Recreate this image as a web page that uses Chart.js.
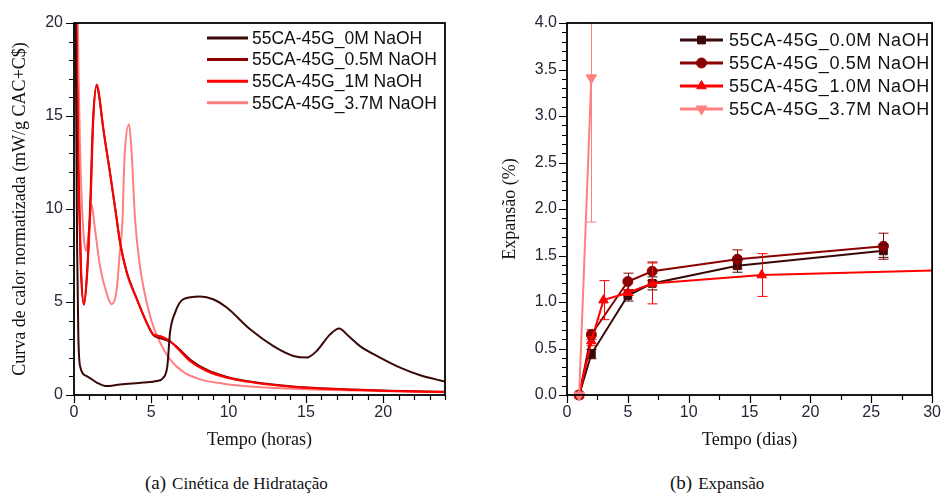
<!DOCTYPE html>
<html>
<head>
<meta charset="utf-8">
<script src="https://cdn.jsdelivr.net/npm/chart.js@4.4.0/dist/chart.umd.min.js"></script>
<style>
  body { margin: 0; background: #fff; width: 949px; height: 493px; position: relative; overflow: hidden; }
  canvas { position: absolute; top: 0; }
  #heat { left: 0; }
  #expansion { left: 475px; }
  .caption { position: absolute; top: 472px; font-family: "Liberation Serif", serif; font-size: 17px; color: #111; white-space: nowrap; }
  .caption span { font-size: 19px; margin-right: 6px; }
</style>
</head>
<body>
<canvas id="heat" width="475" height="460"></canvas>
<canvas id="expansion" width="474" height="460"></canvas>
<div class="caption" style="left:145px"><span>(a)</span>Cinética de Hidratação</div>
<div class="caption" style="left:670px"><span>(b)</span>Expansão</div>
<script>
// --- hydration heat flow (time in hours, mW/g) ---
const heatLabels = ['55CA-45G_0M NaOH', '55CA-45G_0.5M NaOH', '55CA-45G_1M NaOH', '55CA-45G_3.7M NaOH'];
const heat0_t = [0.05, 0.12, 0.2, 0.28, 0.39, 0.82, 1.47, 2.11, 2.98, 4.49, 5.35, 5.78, 6.04, 6.21, 6.54, 7.08, 8.16, 9.0, 9.88, 11.39, 12.9, 14.2, 15.06, 15.7, 16.57, 17.15, 17.76, 18.5, 19.8, 21.1, 22.4, 24];
const heat0_q = [30, 18, 8, 3.2, 1.56, 1.02, 0.67, 0.48, 0.57, 0.67, 0.75, 0.93, 1.56, 3.35, 4.43, 5.15, 5.29, 5.15, 4.7, 3.53, 2.63, 2.1, 2.01, 2.37, 3.26, 3.57, 3.17, 2.63, 2.01, 1.47, 1.06, 0.72];
const heat05_t = [0.05, 0.14, 0.28, 0.43, 0.63, 0.83, 1.05, 1.22, 1.45, 1.58, 1.88, 2.3, 2.74, 2.96, 3.4, 4.05, 4.7, 5.13, 5.6, 6.25, 6.7, 7.55, 8.65, 9.9, 11.6, 14, 17.2, 20.5, 24];
const heat05_q = [30, 20, 12, 7, 4.85, 6.4, 10.3, 14.6, 16.6, 16.3, 14.4, 12.1, 9.6, 8.3, 6.65, 5.2, 3.9, 3.22, 3.05, 2.85, 2.55, 1.88, 1.33, 0.97, 0.7, 0.47, 0.32, 0.23, 0.17];
const heat1_t = [0.05, 0.15, 0.3, 0.45, 0.65, 0.85, 1.08, 1.25, 1.47, 1.6, 1.9, 2.33, 2.76, 2.98, 3.41, 4.06, 4.7, 5.13, 5.57, 6.21, 6.65, 7.5, 8.59, 9.88, 11.6, 14, 17.2, 20.5, 24];
const heat1_q = [30, 20, 12, 7, 4.88, 6.5, 10.5, 14.8, 16.7, 16.3, 14.3, 11.96, 9.45, 8.2, 6.58, 5.15, 3.89, 3.26, 3.17, 2.9, 2.55, 1.83, 1.29, 0.93, 0.67, 0.45, 0.31, 0.22, 0.16];
const heat37_t = [0.15, 0.25, 0.4, 0.5, 0.65, 0.78, 0.95, 1.14, 1.3, 1.68, 2.1, 2.44, 2.75, 2.98, 3.15, 3.2, 3.3, 3.56, 3.73, 3.95, 4.27, 4.92, 5.57, 6.21, 7.07, 8.16, 9.66, 11.8, 15.06, 19.4, 24];
const heat37_q = [30, 20, 13, 10.5, 8.3, 7.74, 8.8, 10.25, 9.3, 6.94, 5.5, 4.88, 5.6, 7.83, 9.62, 11.2, 13.2, 14.55, 13.0, 9.45, 6.9, 4.25, 2.82, 1.92, 1.24, 0.84, 0.61, 0.43, 0.31, 0.22, 0.15];

// --- expansion (time in days, %) with error bars ---
const expLabels = ['55CA-45G_0.0M NaOH', '55CA-45G_0.5M NaOH', '55CA-45G_1.0M NaOH', '55CA-45G_3.7M NaOH'];
const exp00_days = [1, 2, 5, 7, 14, 26];
const exp00_pct = [0, 0.44, 1.07, 1.20, 1.39, 1.55];
const exp00_err = [0, 0.05, 0.06, 0.07, 0.07, 0.07];
const exp05_days = [1, 2, 5, 7, 14, 26];
const exp05_pct = [0, 0.65, 1.22, 1.33, 1.46, 1.60];
const exp05_err = [0, 0.05, 0.09, 0.10, 0.10, 0.14];
const exp10_days = [1, 2, 3, 5, 7, 16, 30];
const exp10_pct = [0, 0.58, 1.02, 1.10, 1.20, 1.29, 1.34];
const exp10_err = [0, 0.05, 0.21, 0.03, 0.22, 0.23, 0];
const exp37_days = [1, 2];
const exp37_pct = [0, 3.41];
const exp37_err = [0, 1.55];

const colors = ['#3b0808', '#8b0000', '#ff0000', '#ff8080'];
const sans = '"Liberation Sans", Arial, sans-serif';
const serif = '"Liberation Serif", "Times New Roman", serif';

const pts = (xs, ys) => xs.map((x, i) => ({ x, y: ys[i] }));

// closed box around the plot plus outward major/minor ticks
const frame = {
  id: 'frame',
  afterDraw(chart, args, o) {
    const { ctx, chartArea: a, scales: { x, y } } = chart;
    ctx.save();
    ctx.strokeStyle = '#000';
    ctx.lineWidth = 1.2;
    ctx.beginPath();
    const nx = Math.round((x.max - x.min) / o.xMinor);
    for (let i = 0; i <= nx; i++) {
      const v = x.min + i * o.xMinor;
      const major = Math.abs(v / o.xMajor - Math.round(v / o.xMajor)) < 1e-6;
      const px = Math.round(x.getPixelForValue(v)) + 0.5;
      ctx.moveTo(px, a.bottom);
      ctx.lineTo(px, a.bottom + (major ? 8 : 5));
    }
    const ny = Math.round((y.max - y.min) / o.yMinor);
    for (let i = 0; i <= ny; i++) {
      const v = y.min + i * o.yMinor;
      const major = Math.abs(v / o.yMajor - Math.round(v / o.yMajor)) < 1e-6;
      const py = Math.round(y.getPixelForValue(v)) + 0.5;
      ctx.moveTo(a.left, py);
      ctx.lineTo(a.left - (major ? 8 : 5), py);
    }
    ctx.stroke();
    ctx.lineWidth = 1.8;
    ctx.strokeRect(a.left, a.top, a.right - a.left, a.bottom - a.top);
    ctx.restore();
  }
};

// legend drawn inside the plot, top right
const insideLegend = {
  id: 'insideLegend',
  afterDraw(chart, args, o) {
    const { ctx } = chart;
    ctx.save();
    ctx.font = o.font;
    ctx.letterSpacing = o.spacing || '0px';
    ctx.textBaseline = 'middle';
    ctx.fillStyle = '#111';
    chart.data.datasets.forEach((ds, i) => {
      const yy = o.y + i * o.row;
      ctx.strokeStyle = ds.borderColor;
      ctx.lineWidth = o.lineWidth;
      ctx.beginPath();
      ctx.moveTo(o.x, yy);
      ctx.lineTo(o.x + o.len, yy);
      ctx.stroke();
      if (o.markers && Chart.helpers && Chart.helpers.drawPoint) {
        ctx.fillStyle = ds.borderColor;
        ctx.lineWidth = 1;
        Chart.helpers.drawPoint(ctx, {
          pointStyle: ds.pointStyle, rotation: ds.pointRotation || 0,
          radius: ds.legendRadius, borderWidth: 1
        }, o.x + o.len / 2, yy);
        ctx.fillStyle = '#111';
      }
      ctx.fillText(ds.label, o.x + o.len + o.gap, yy + 1);
    });
    ctx.restore();
  }
};

// vertical error bars with caps
const errorBars = {
  id: 'errorBars',
  afterDatasetsDraw(chart) {
    const { ctx, chartArea: a, scales: { x, y } } = chart;
    ctx.save();
    ctx.beginPath();
    ctx.rect(a.left, a.top - 1, a.right - a.left, a.bottom - a.top + 2);
    ctx.clip();
    ctx.lineWidth = 1;
    chart.data.datasets.forEach(ds => {
      ctx.strokeStyle = ds.borderColor;
      ds.data.forEach((p, i) => {
        const e = ds.errors[i];
        if (!e) return;
        const px = Math.round(x.getPixelForValue(p.x)) + 0.5;
        const top = y.getPixelForValue(p.y + e);
        const bot = y.getPixelForValue(p.y - e);
        ctx.beginPath();
        ctx.moveTo(px, top); ctx.lineTo(px, bot);
        ctx.moveTo(px - 5, top); ctx.lineTo(px + 5, top);
        ctx.moveTo(px - 5, bot); ctx.lineTo(px + 5, bot);
        ctx.stroke();
      });
    });
    ctx.restore();
  }
};

const tickFont = { family: sans, size: 16 };
const tickColor = '#262636';
const titleFont = { family: serif, size: 18 };

new Chart(document.getElementById('heat'), {
  type: 'line',
  data: {
    datasets: [
      { label: heatLabels[0], data: pts(heat0_t, heat0_q), order: 0 },
      { label: heatLabels[1], data: pts(heat05_t, heat05_q), order: 2 },
      { label: heatLabels[2], data: pts(heat1_t, heat1_q), order: 1 },
      { label: heatLabels[3], data: pts(heat37_t, heat37_q), order: 3 }
    ].map((d, i) => Object.assign(d, {
      borderColor: colors[i], borderWidth: 2, pointRadius: 0,
      cubicInterpolationMode: 'monotone', clip: 0
    }))
  },
  options: {
    responsive: false,
    animation: false,
    devicePixelRatio: 1,
    layout: { padding: { top: 23, right: 30, left: 0, bottom: 0 } },
    plugins: {
      legend: { display: false },
      tooltip: { enabled: false },
      frame: { xMinor: 1, xMajor: 5, yMinor: 1, yMajor: 5 },
      insideLegend: { x: 207, y: 38, row: 21.6, len: 41, gap: 4, lineWidth: 3, font: '17.5px ' + sans }
    },
    scales: {
      x: {
        type: 'linear', min: 0, max: 24,
        grid: { display: false, drawTicks: false }, border: { display: false },
        ticks: { stepSize: 5, includeBounds: false, padding: 8, font: tickFont, color: tickColor, maxRotation: 0 },
        title: { display: true, text: 'Tempo (horas)', font: titleFont, color: '#111', padding: { top: 0, bottom: 9 } },
        afterFit: s => { s.height = 65; }
      },
      y: {
        min: 0, max: 20,
        grid: { display: false, drawTicks: false }, border: { display: false },
        ticks: { stepSize: 5, padding: 11, font: tickFont, color: tickColor },
        title: { display: true, text: 'Curva de calor normatizada (mW/g CAC+C$)', font: titleFont, color: '#111', padding: { top: 9, bottom: 0 } },
        afterFit: s => { s.width = 74; }
      }
    }
  },
  plugins: [frame, insideLegend]
});

const expSeries = [
  { days: exp00_days, pct: exp00_pct, err: exp00_err, style: 'rect', radius: 5.5, rot: 0, order: 3 },
  { days: exp05_days, pct: exp05_pct, err: exp05_err, style: 'circle', radius: 5, rot: 0, order: 2 },
  { days: exp10_days, pct: exp10_pct, err: exp10_err, style: 'triangle', radius: 5.5, rot: 0, order: 1 },
  { days: exp37_days, pct: exp37_pct, err: exp37_err, style: 'triangle', radius: 6, rot: 180, order: 0 }
];

new Chart(document.getElementById('expansion'), {
  type: 'line',
  data: {
    datasets: expSeries.map((s, i) => ({
      label: expLabels[i],
      data: pts(s.days, s.pct),
      errors: s.err,
      order: s.order,
      borderColor: colors[i],
      backgroundColor: colors[i],
      borderWidth: 2,
      pointStyle: s.style,
      pointRotation: s.rot,
      legendRadius: s.radius,
      pointRadius: c => (c.raw && c.raw.x >= 30 ? 0 : s.radius),
      pointBorderWidth: 1,
      tension: 0,
      clip: false
    }))
  },
  options: {
    responsive: false,
    animation: false,
    devicePixelRatio: 1,
    layout: { padding: { top: 23, right: 10, left: 0, bottom: 0 } },
    plugins: {
      legend: { display: false },
      tooltip: { enabled: false },
      frame: { xMinor: 2.5, xMajor: 5, yMinor: 0.1, yMajor: 0.5 },
      insideLegend: { x: 205, y: 40, row: 23, len: 43, gap: 6, lineWidth: 3, markers: true, font: '18px ' + sans, spacing: '0.6px' }
    },
    scales: {
      x: {
        type: 'linear', min: 0, max: 30,
        grid: { display: false, drawTicks: false }, border: { display: false },
        ticks: { stepSize: 5, padding: 8, font: tickFont, color: tickColor, maxRotation: 0 },
        title: { display: true, text: 'Tempo (dias)', font: titleFont, color: '#111', padding: { top: 0, bottom: 9 } },
        afterFit: s => { s.height = 65; }
      },
      y: {
        min: 0, max: 4,
        grid: { display: false, drawTicks: false }, border: { display: false },
        ticks: { stepSize: 0.5, padding: 10, font: tickFont, color: tickColor, callback: v => v.toFixed(1) },
        title: { display: true, text: 'Expansão (%)', font: titleFont, color: '#111', padding: { top: 24, bottom: 0 } },
        afterFit: s => { s.width = 92; }
      }
    }
  },
  plugins: [frame, errorBars, insideLegend]
});
</script>
</body>
</html>
